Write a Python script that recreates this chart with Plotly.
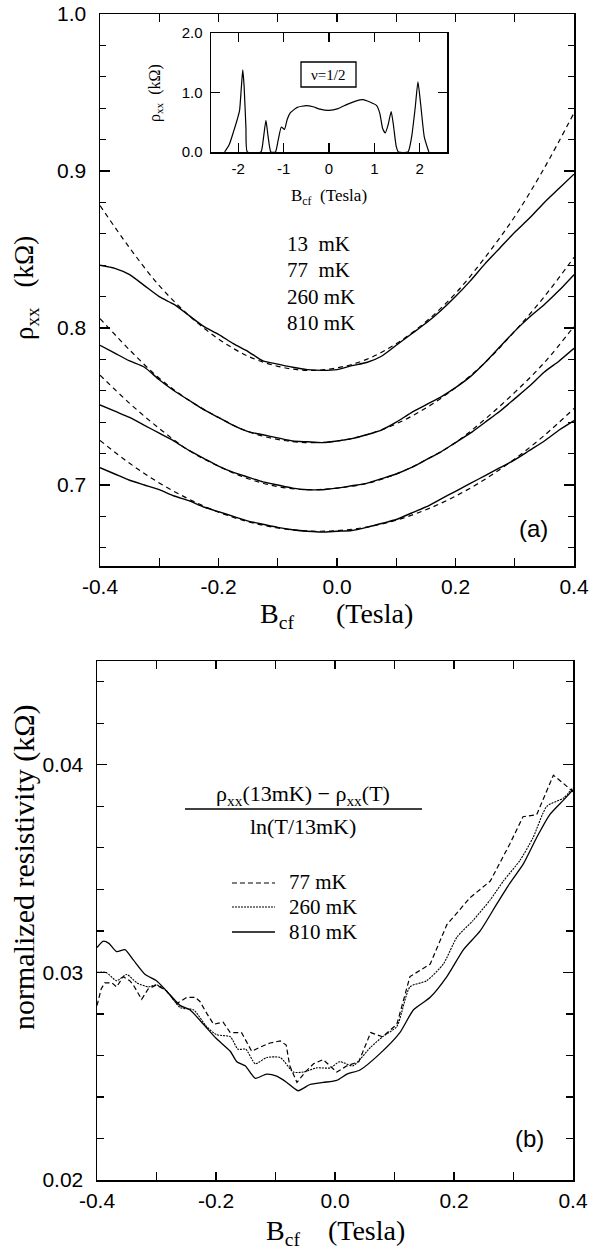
import plotly.graph_objects as go

W, H = 589, 1251

# ---------------- Panel (a) data ----------------
b_a = [-0.400, -0.375, -0.350, -0.325, -0.300, -0.275, -0.250, -0.225, -0.200, -0.175,
       -0.150, -0.125, -0.100, -0.075, -0.050, -0.025, 0.000, 0.025, 0.050, 0.075,
       0.100, 0.125, 0.150, 0.175, 0.200, 0.225, 0.250, 0.275, 0.300, 0.325,
       0.350, 0.375, 0.400]
rho_13mK = [0.840, 0.838, 0.834, 0.827, 0.820, 0.815, 0.808, 0.801, 0.796, 0.790,
            0.785, 0.779, 0.777, 0.775, 0.7735, 0.773, 0.7735, 0.776, 0.778, 0.782,
            0.789, 0.796, 0.803, 0.811, 0.820, 0.830, 0.841, 0.851, 0.861, 0.870,
            0.880, 0.889, 0.898]
rho_77mK = [0.789, 0.784, 0.779, 0.775, 0.767, 0.760, 0.754, 0.748, 0.743, 0.738,
            0.734, 0.732, 0.730, 0.728, 0.7275, 0.727, 0.728, 0.7295, 0.732, 0.735,
            0.740, 0.746, 0.751, 0.756, 0.762, 0.769, 0.778, 0.788, 0.798, 0.807,
            0.815, 0.824, 0.834]
rho_260mK = [0.751, 0.747, 0.743, 0.738, 0.733, 0.728, 0.722, 0.717, 0.712, 0.708,
             0.705, 0.702, 0.700, 0.698, 0.697, 0.697, 0.698, 0.6995, 0.701, 0.704,
             0.707, 0.711, 0.716, 0.721, 0.727, 0.733, 0.740, 0.747, 0.755, 0.763,
             0.772, 0.779, 0.787]
rho_810mK = [0.711, 0.707, 0.703, 0.700, 0.697, 0.693, 0.690, 0.686, 0.683, 0.680,
             0.677, 0.675, 0.673, 0.6715, 0.6705, 0.670, 0.6705, 0.671, 0.673, 0.6755,
             0.678, 0.682, 0.686, 0.691, 0.696, 0.701, 0.706, 0.711, 0.716, 0.722,
             0.728, 0.735, 0.741]

b_fit = [-0.40, -0.35, -0.30, -0.25, -0.20, -0.15, -0.10, -0.05, 0.00,
         0.05, 0.10, 0.15, 0.20, 0.25, 0.30, 0.35, 0.40]
fit_13mK = [0.878, 0.851, 0.827, 0.808, 0.793, 0.782, 0.7756, 0.773, 0.7746,
            0.780, 0.790, 0.804, 0.822, 0.845, 0.871, 0.902, 0.937]
fit_77mK = [0.806, 0.786, 0.768, 0.754, 0.743, 0.734, 0.729, 0.727, 0.728,
            0.732, 0.739, 0.749, 0.762, 0.778, 0.798, 0.820, 0.845]
fit_260mK = [0.770, 0.752, 0.736, 0.722, 0.712, 0.704, 0.699, 0.697, 0.698,
             0.701, 0.707, 0.716, 0.727, 0.742, 0.759, 0.778, 0.801]
fit_810mK = [0.7284, 0.7138, 0.7013, 0.691, 0.6827, 0.6766, 0.6726, 0.6707, 0.6709,
             0.6732, 0.6776, 0.6842, 0.6929, 0.7037, 0.7166, 0.7316, 0.7487]

temps_a = ["13\u00a0\u00a0mK", "77\u00a0\u00a0mK", "260 mK", "810 mK"]

# ---------------- Inset data ----------------
b_inset = [-2.30, -2.20, -2.10, -2.02, -1.97, -1.93, -1.90, -1.87, -1.83, -1.80,
           -1.50, -1.45, -1.39, -1.34, -1.28, -1.18, -1.12, -1.05, -0.98, -0.92,
           -0.85, -0.70, -0.50, -0.35, -0.20, 0.00, 0.20, 0.40, 0.60, 0.75,
           0.90, 1.05, 1.12, 1.18, 1.24, 1.30, 1.37, 1.42, 1.48, 1.53,
           1.74, 1.82, 1.90, 1.96, 2.02, 2.10, 2.20]
rho_inset = [0.0, 0.12, 0.35, 0.55, 0.70, 1.10, 1.38, 1.10, 0.40, 0.0,
             0.0, 0.20, 0.53, 0.25, 0.0, 0.0, 0.20, 0.42, 0.38, 0.55,
             0.66, 0.75, 0.78, 0.76, 0.72, 0.70, 0.73, 0.80, 0.86, 0.88,
             0.84, 0.78, 0.65, 0.40, 0.32, 0.45, 0.68, 0.45, 0.10, 0.0,
             0.0, 0.25, 0.75, 1.18, 0.80, 0.25, 0.0]

# ---------------- Panel (b) data ----------------
b_77 = [-0.400, -0.393, -0.387, -0.375, -0.367, -0.356, -0.345, -0.339, -0.325, -0.314,
        -0.300, -0.283, -0.266, -0.249, -0.235, -0.227, -0.215, -0.204, -0.188, -0.176,
        -0.157, -0.140, -0.126, -0.109, -0.092, -0.082, -0.076, -0.064, -0.050, -0.036,
        -0.020, 0.003, 0.020, 0.040, 0.060, 0.080, 0.104, 0.126, 0.160, 0.188,
        0.227, 0.261, 0.294, 0.316, 0.339, 0.367, 0.384, 0.400]
n_77 = [0.0284, 0.0292, 0.0295, 0.0295, 0.0293, 0.0298, 0.0296, 0.0294, 0.0287, 0.0292,
        0.0294, 0.0291, 0.0285, 0.0288, 0.0288, 0.0286, 0.0280, 0.0275, 0.0276, 0.0271,
        0.0271, 0.0262, 0.0264, 0.0266, 0.0267, 0.0265, 0.0255, 0.0247, 0.0252, 0.0256,
        0.0258, 0.0252, 0.0255, 0.0257, 0.0271, 0.0269, 0.0275, 0.0298, 0.0304, 0.0323,
        0.0336, 0.0344, 0.0362, 0.0375, 0.0376, 0.0395, 0.0391, 0.0387]

b_260 = [-0.400, -0.385, -0.367, -0.350, -0.333, -0.314, -0.300, -0.283, -0.260, -0.238,
         -0.216, -0.199, -0.176, -0.163, -0.150, -0.134, -0.115, -0.092, -0.070, -0.053,
         -0.031, -0.008, 0.008, 0.030, 0.060, 0.080, 0.104, 0.126, 0.154, 0.182,
         0.205, 0.232, 0.261, 0.283, 0.311, 0.333, 0.356, 0.384, 0.400]
n_260 = [0.0300, 0.0300, 0.0296, 0.0299, 0.0295, 0.0293, 0.0294, 0.0291, 0.0283, 0.0282,
         0.0274, 0.0270, 0.0269, 0.0263, 0.0263, 0.0256, 0.0259, 0.0259, 0.0252, 0.0252,
         0.0254, 0.0254, 0.0257, 0.0255, 0.0264, 0.0269, 0.0274, 0.0293, 0.0296, 0.0304,
         0.0317, 0.0325, 0.0335, 0.0344, 0.0354, 0.0365, 0.0380, 0.0384, 0.0389]

b_810 = [-0.400, -0.390, -0.380, -0.367, -0.353, -0.339, -0.319, -0.300, -0.283, -0.260,
         -0.244, -0.221, -0.199, -0.176, -0.165, -0.151, -0.134, -0.115, -0.098, -0.081,
         -0.062, -0.042, -0.020, 0.003, 0.020, 0.042, 0.076, 0.109, 0.132, 0.160,
         0.188, 0.216, 0.244, 0.272, 0.294, 0.316, 0.339, 0.361, 0.384, 0.400]
n_810 = [0.0312, 0.0315, 0.0314, 0.0310, 0.0311, 0.0306, 0.0299, 0.0296, 0.0291, 0.0284,
         0.0282, 0.0275, 0.0268, 0.0262, 0.0257, 0.0255, 0.0249, 0.0251, 0.0250, 0.0247,
         0.0243, 0.0246, 0.0247, 0.0248, 0.0251, 0.0253, 0.0261, 0.0271, 0.0282, 0.0288,
         0.0298, 0.0311, 0.0320, 0.0333, 0.0343, 0.0352, 0.0365, 0.0376, 0.0383, 0.0388]

legend_b = ["77 mK", "260 mK", "810 mK"]

# tick labels
xticks_main = [-0.4, -0.2, 0.0, 0.2, 0.4]
xticktext_main = ["-0.4", "-0.2", "0.0", "0.2", "0.4"]
yticks_a = [0.7, 0.8, 0.9, 1.0]
yticktext_a = ["0.7", "0.8", "0.9", "1.0"]
yticks_b = [0.02, 0.03, 0.04]
yticktext_b = ["0.02", "0.03", "0.04"]
xticks_in = [-2, -1, 0, 1, 2]
xticktext_in = ["-2", "-1", "0", "1", "2"]
yticks_in = [0.0, 1.0, 2.0]
yticktext_in = ["0.0", "1.0", "2.0"]

SANS = "Liberation Sans"
SERIF = "Liberation Serif"


def PX(x):
    return x / W


def PY(y):
    return 1 - y / H


fig = go.Figure()

line_solid = dict(color="black", width=1.4)
line_dash = dict(color="black", width=1.2, dash="5px,4px")

# panel (a)
for fit in [fit_13mK, fit_77mK, fit_260mK, fit_810mK]:
    fig.add_trace(go.Scatter(x=b_fit, y=fit, mode="lines", line=dict(line_dash, shape="spline"),
                             xaxis="x", yaxis="y", showlegend=False, hoverinfo="skip"))
for rho in [rho_13mK, rho_77mK, rho_260mK, rho_810mK]:
    fig.add_trace(go.Scatter(x=b_a, y=rho, mode="lines", line=dict(line_solid, shape="spline", smoothing=0.6),
                             xaxis="x", yaxis="y", showlegend=False, hoverinfo="skip"))

# inset
fig.add_trace(go.Scatter(x=b_inset, y=rho_inset, mode="lines",
                         line=dict(color="black", width=1.2, shape="spline", smoothing=0.5),
                         xaxis="x3", yaxis="y3", showlegend=False, hoverinfo="skip"))

# panel (b)
fig.add_trace(go.Scatter(x=b_77, y=n_77, mode="lines",
                         line=dict(color="black", width=1.2, dash="5px,3px"),
                         xaxis="x2", yaxis="y2", showlegend=False, hoverinfo="skip"))
fig.add_trace(go.Scatter(x=b_260, y=n_260, mode="lines",
                         line=dict(color="black", width=1.1, dash="2px,1px", shape="spline", smoothing=0.6),
                         xaxis="x2", yaxis="y2", showlegend=False, hoverinfo="skip"))
fig.add_trace(go.Scatter(x=b_810, y=n_810, mode="lines",
                         line=dict(color="black", width=1.3, shape="spline", smoothing=0.6),
                         xaxis="x2", yaxis="y2", showlegend=False, hoverinfo="skip"))


def axis(domain, rng, tickvals, ticktext, ticklen, minor_dtick, minor_len, fsize, tick0=None, standoff=4):
    d = dict(domain=domain, range=rng, tickmode="array", tickvals=tickvals, ticktext=ticktext,
             ticks="inside", ticklen=ticklen, tickwidth=1.3, tickcolor="black",
             showline=True, linecolor="black", linewidth=1.5, mirror="ticks",
             showgrid=False, zeroline=False, tickfont=dict(family=SANS, size=fsize, color="black"),
             ticklabelstandoff=standoff, fixedrange=True, automargin=False)
    if minor_dtick:
        d["minor"] = dict(tickmode="linear", tick0=tick0, dtick=minor_dtick, ticks="inside",
                          ticklen=minor_len, tickwidth=1.3, tickcolor="black", showgrid=False)
    return d


fig.update_layout(
    width=W, height=H, margin=dict(l=0, r=0, t=0, b=0, pad=0, autoexpand=False),
    paper_bgcolor="white", plot_bgcolor="white", showlegend=False,
    xaxis=axis([PX(100), PX(574)], [-0.4, 0.4], xticks_main, xticktext_main, 8, 0.1, 8, 21, tick0=-0.4, standoff=1),
    yaxis=axis([PY(566), PY(14)], [0.6484, 1.0], yticks_a, yticktext_a, 10, 0.02, 6, 21, tick0=0.7, standoff=8),
    xaxis2=dict(axis([PX(97), PX(573)], [-0.4, 0.4], xticks_main, xticktext_main, 8, 0.1, 8, 21, tick0=-0.4, standoff=1), anchor="y2"),
    yaxis2=dict(axis([PY(1180), PY(661)], [0.02, 0.045], yticks_b, yticktext_b, 10, 0.002, 7, 21, tick0=0.02, standoff=8), anchor="x2"),
    xaxis3=dict(axis([PX(211), PX(447)], [-2.6, 2.6], xticks_in, xticktext_in, 9, None, 0, 15, standoff=2), anchor="y3"),
    yaxis3=dict(axis([PY(152), PY(33)], [0.0, 2.0], yticks_in, yticktext_in, 9, None, 0, 15, standoff=4), anchor="x3"),
)

ann = []


def add_text(text, x, y, size, family=SERIF, xanchor="center", yanchor="middle", angle=0):
    ann.append(dict(text=text, x=PX(x), y=PY(y), xref="paper", yref="paper", showarrow=False,
                    xanchor=xanchor, yanchor=yanchor, textangle=angle,
                    font=dict(family=family, size=size, color="black")))


nb = "\u00a0"
# panel (a) titles
add_text("ρ<sub>xx</sub>" + nb * 3 + "(kΩ)", 26, 288, 27, angle=-90)
add_text("B<sub>cf</sub>" + nb * 6 + "(Tesla)", 336, 615, 28)
# temperatures
for i, t in enumerate(temps_a):
    add_text(t, 285, 244 + i * 26.3, 21, xanchor="left")
add_text("(a)", 533, 528, 24, family=SANS)
# inset titles
add_text("ρ<sub>xx</sub>" + nb * 2 + "(kΩ)", 156, 93, 16, angle=-90)
add_text("B<sub>cf</sub>" + nb * 2 + "(Tesla)", 329, 197, 17)
add_text("ν=1/2", 328, 75, 15)
# panel (b)
add_text("B<sub>cf</sub>" + nb * 4 + "(Tesla)", 335, 1232, 28)
add_text("normalized resistivity (kΩ)", 24, 867, 30, angle=-90)
add_text("(b)", 529, 1138, 24, family=SANS)
add_text("ρ<sub>xx</sub>(13mK) − ρ<sub>xx</sub>(T)", 303, 795, 22)
add_text("ln(T/13mK)", 303, 826, 22)
for i, t in enumerate(legend_b):
    add_text(t, 287, 882 + i * 25, 21, xanchor="left")

fig.update_layout(annotations=ann)

shapes = [
    # nu=1/2 box
    dict(type="rect", xref="paper", yref="paper", x0=PX(301), x1=PX(356), y0=PY(87), y1=PY(62),
         line=dict(color="black", width=1.3), fillcolor="white", layer="above"),
    # fraction bar
    dict(type="line", xref="paper", yref="paper", x0=PX(185), x1=PX(422), y0=PY(809), y1=PY(809),
         line=dict(color="black", width=1.3)),
    # legend lines
    dict(type="line", xref="paper", yref="paper", x0=PX(232), x1=PX(275), y0=PY(883), y1=PY(883),
         line=dict(color="black", width=1.2, dash="5px,3px")),
    dict(type="line", xref="paper", yref="paper", x0=PX(232), x1=PX(275), y0=PY(907), y1=PY(907),
         line=dict(color="black", width=1.1, dash="2px,1px")),
    dict(type="line", xref="paper", yref="paper", x0=PX(232), x1=PX(275), y0=PY(932), y1=PY(932),
         line=dict(color="black", width=1.3)),
]
fig.update_layout(shapes=shapes)

fig.write_html("out.html",
               config={"displayModeBar": False, "staticPlot": True},
               post_script="document.body.style.margin='0px';document.body.style.overflow='hidden';")
